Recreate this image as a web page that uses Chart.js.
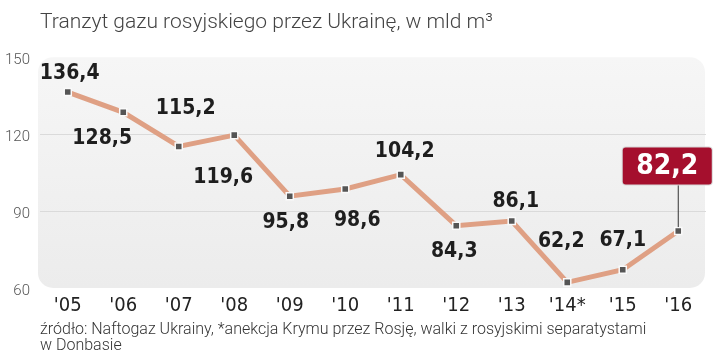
<!DOCTYPE html>
<html>
<head>
<meta charset="utf-8">
<script src="https://cdn.jsdelivr.net/npm/chart.js@4/dist/chart.umd.min.js"></script>
<style>
  html, body { margin: 0; padding: 0; background: #fff; }
  #wrap { width: 720px; height: 358px; }
</style>
</head>
<body>
<div id="wrap"><canvas id="c"></canvas></div>
<script>
// Data (bln m3)
const YEARS = ["'05", "'06", "'07", "'08", "'09", "'10", "'11", "'12", "'13", "'14*", "'15", "'16"];
const TRANSIT = [136.4, 128.5, 115.2, 119.6, 95.8, 98.6, 104.2, 84.3, 86.1, 62.2, 67.1, 82.2];
const Y_TICKS = [60, 90, 120, 150];

const TITLE = 'Tranzyt gazu rosyjskiego przez Ukrainę, w mld m³';
const SOURCE = [
  'źródło: Naftogaz Ukrainy, *anekcja Krymu przez Rosję, walki z rosyjskimi separatystami',
  'w Donbasie'
];

// label placement relative to each point [dx, dy], last one is the highlighted box
const LABEL_OFFSETS = [
  [2, -20], [-21, 25], [7, -39], [-11, 41], [-4, 25], [12, 31],
  [4, -24], [-2, 25], [4, -21], [-6, -42], [0, -30], [-11, -65]
];

const LIGHT = "'Roboto', 'Noto Sans', sans-serif";
const COND = "'DejaVu Sans Condensed', 'Liberation Sans Narrow', sans-serif";
const LINE_COLOR = '#dfa084';
const HIGHLIGHT = '#a50f2d';

// rounded grey panel behind the plot
const panelPlugin = {
  id: 'panel',
  beforeDraw(chart) {
    const { ctx, chartArea: a } = chart;
    ctx.save();
    const g = ctx.createLinearGradient(0, a.top, 0, a.bottom);
    g.addColorStop(0, '#f6f6f6');
    g.addColorStop(1, '#ececec');
    ctx.fillStyle = g;
    ctx.beginPath();
    ctx.roundRect(a.left - 2, a.top, a.right - a.left + 1, a.bottom - a.top, 15);
    ctx.fill();
    ctx.restore();
  }
};

// value labels + highlighted last value
const labelPlugin = {
  id: 'valueLabels',
  afterDatasetsDraw(chart) {
    const { ctx } = chart;
    const meta = chart.getDatasetMeta(0);
    const last = meta.data.length - 1;
    ctx.save();
    ctx.textAlign = 'center';
    ctx.textBaseline = 'middle';
    meta.data.forEach((pt, i) => {
      const [dx, dy] = LABEL_OFFSETS[i];
      const txt = TRANSIT[i].toFixed(1).replace('.', ',');
      const x = pt.x + dx, y = pt.y + dy;
      if (i === last) {
        const w = 89, h = 37;
        // leader line
        ctx.strokeStyle = '#333';
        ctx.lineWidth = 1;
        ctx.beginPath();
        ctx.moveTo(pt.x, y + h / 2);
        ctx.lineTo(pt.x, pt.y - 4);
        ctx.stroke();
        ctx.fillStyle = '#d6d6d6';
        ctx.beginPath();
        ctx.roundRect(x - w / 2 - 1, y - h / 2 - 1, w + 2, h + 2, 4);
        ctx.fill();
        ctx.fillStyle = HIGHLIGHT;
        ctx.beginPath();
        ctx.roundRect(x - w / 2, y - h / 2, w, h, 3);
        ctx.fill();
        ctx.fillStyle = '#fff';
        ctx.font = 'bold 28px ' + COND;
        ctx.fillText(txt, x, y + 1);
      } else {
        ctx.fillStyle = '#1e1e1e';
        ctx.font = 'bold 21px ' + COND;
        ctx.fillText(txt, x, y + 1);
      }
    });
    ctx.restore();
  }
};

new Chart(document.getElementById('c'), {
  type: 'line',
  data: {
    labels: YEARS,
    datasets: [{
      data: TRANSIT,
      borderColor: LINE_COLOR,
      borderWidth: 5,
      tension: 0,
      pointStyle: 'rect',
      pointRadius: 5,
      pointBackgroundColor: '#555',
      pointBorderColor: '#fafafa',
      pointBorderWidth: 1.5
    }]
  },
  options: {
    responsive: true,
    maintainAspectRatio: false,
    animation: false,
    layout: { padding: { left: 0, right: 14, top: 0, bottom: 4 } },
    plugins: {
      legend: { display: false },
      tooltip: { enabled: false },
      title: {
        display: true,
        text: TITLE,
        align: 'start',
        fullSize: false,
        color: '#444',
        font: { family: LIGHT, size: 21, weight: '300' },
        padding: { top: 10, bottom: 22 }
      },
      subtitle: {
        display: true,
        position: 'bottom',
        text: SOURCE,
        align: 'start',
        fullSize: false,
        color: '#333',
        font: { family: LIGHT, size: 16, weight: '300', lineHeight: 1.0 },
        padding: { top: 7, bottom: 0 }
      }
    },
    scales: {
      x: {
        offset: true,
        afterFit(scale) { scale.height = 27; },
        grid: { display: false, drawTicks: false },
        border: { display: false },
        ticks: {
          color: '#222',
          padding: 6,
          font: { family: COND, size: 20 },
          maxRotation: 0,
          autoSkip: false
        }
      },
      y: {
        min: 60,
        max: 150,
        afterBuildTicks(scale) {
          scale.ticks = Y_TICKS.map(v => ({ value: v }));
        },
        afterFit(scale) { scale.width = 40; },
        grid: {
          drawTicks: false,
          color: ctx => (ctx.tick && (ctx.tick.value === 60 || ctx.tick.value === 150)) ? 'rgba(0,0,0,0)' : '#dadada',
          lineWidth: 1
        },
        border: { display: false },
        ticks: {
          color: '#555',
          padding: 10,
          labelOffset: 3,
          font: { family: LIGHT, size: 15, weight: '300' }
        }
      }
    }
  },
  plugins: [panelPlugin, labelPlugin]
});
</script>
</body>
</html>
